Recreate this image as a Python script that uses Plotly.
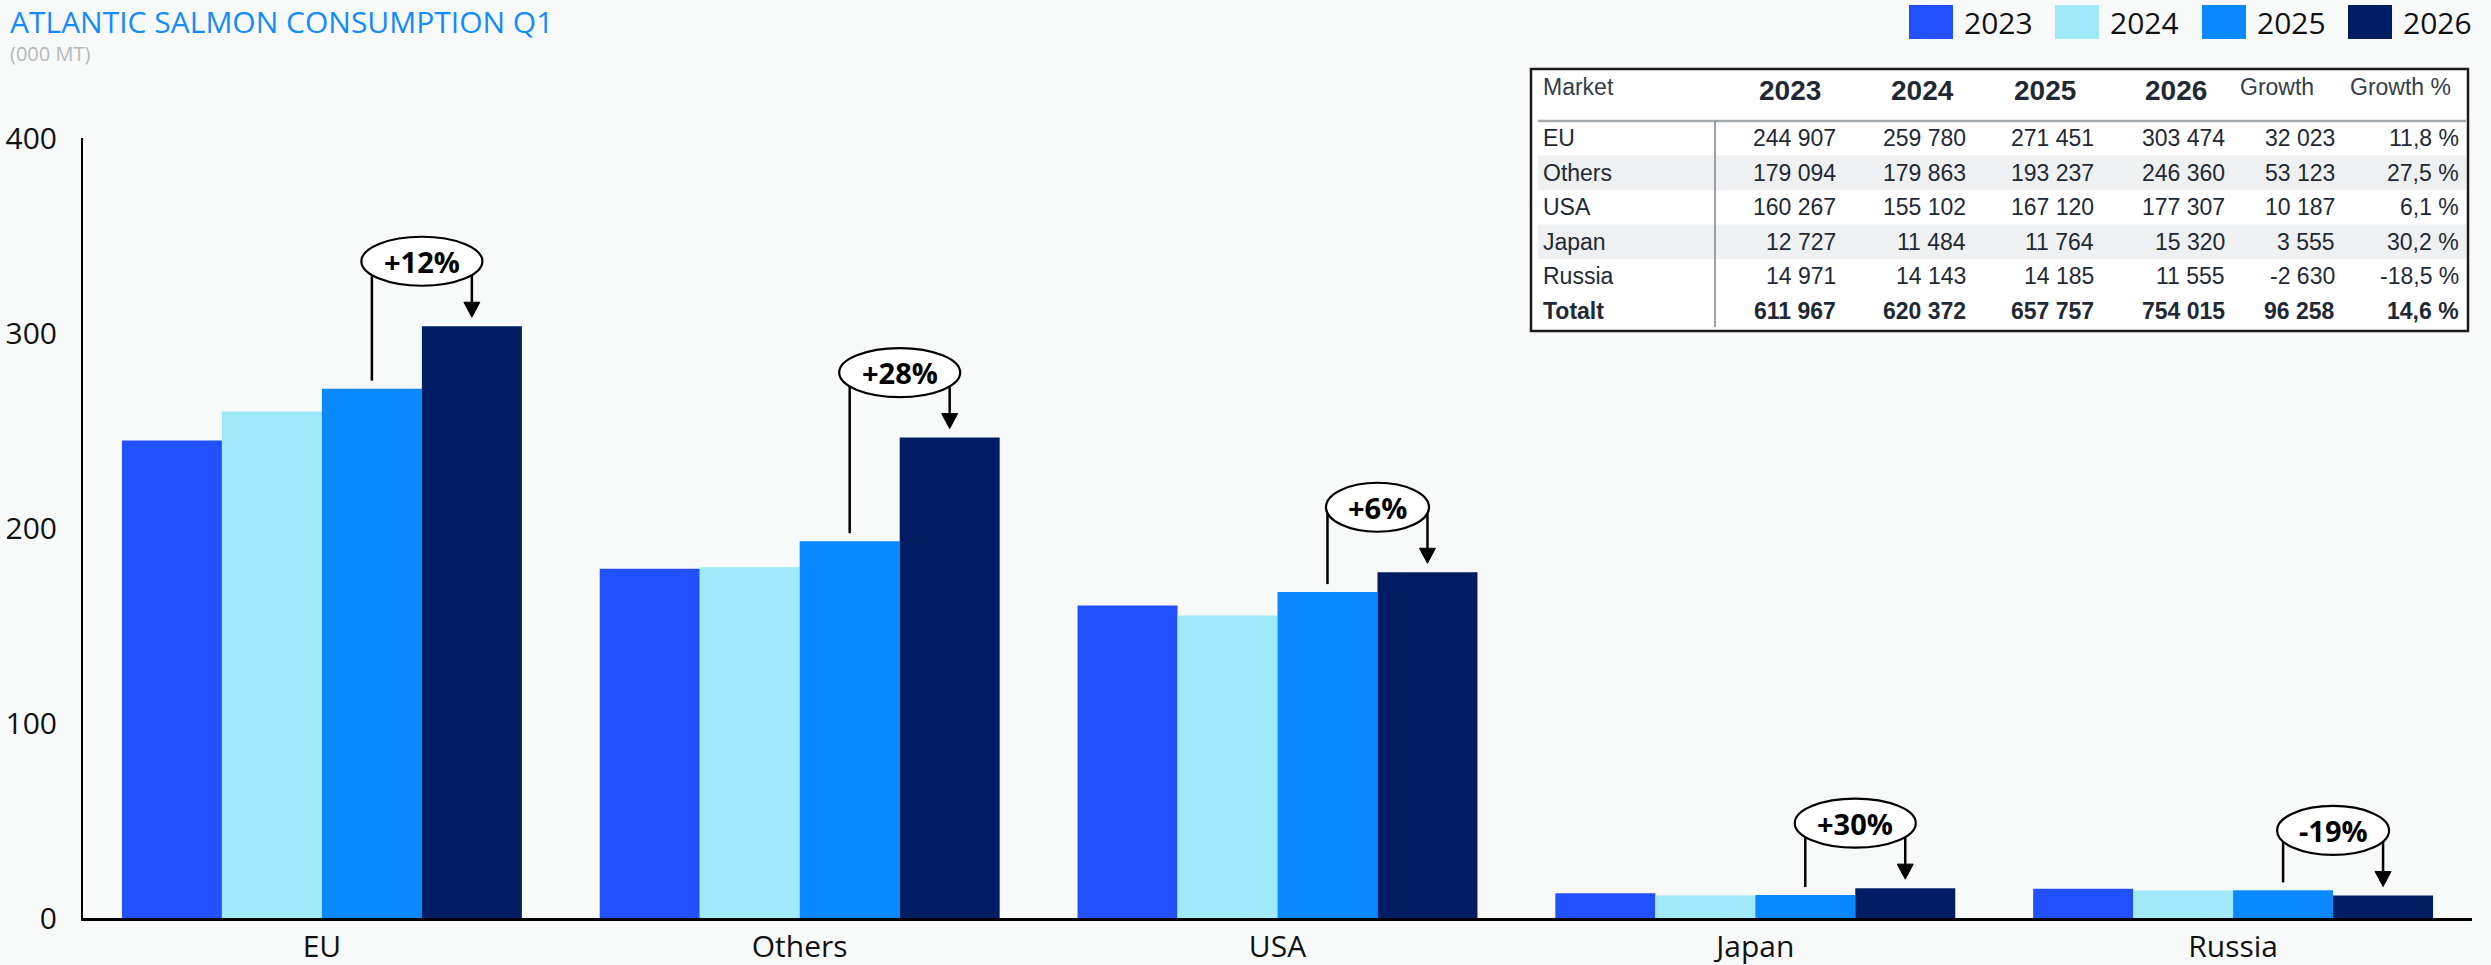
import plotly.graph_objects as go

# ---------------- data ----------------
markets = ["EU", "Others", "USA", "Japan", "Russia"]
years = ["2023", "2024", "2025", "2026"]
v2023 = [244907, 179094, 160267, 12727, 14971]
v2024 = [259780, 179863, 155102, 11484, 14143]
v2025 = [271451, 193237, 167120, 11764, 14185]
v2026 = [303474, 246360, 177307, 15320, 11555]
growth = [32023, 53123, 10187, 3555, -2630]
growth_pct = ["11,8 %", "27,5 %", "6,1 %", "30,2 %", "-18,5 %"]
totals = [611967, 620372, 657757, 754015]
total_growth = 96258
total_growth_pct = "14,6 %"
total_label = "Totalt"
change_labels = ["+12%", "+28%", "+6%", "+30%", "-19%"]
y_ticks = [0, 100, 200, 300, 400]
table_headers = ["Market", "2023", "2024", "2025", "2026", "Growth", "Growth %"]

colors = ["#2350FE", "#9FE9F8", "#0A89FE", "#001C62"]

# ---------------- layout constants ----------------
W, H = 2491, 965
L, R, T, B = 83, 19, 138, 47
PW, PH = W - L - R, H - T - B
YMAX = 400
PPU = PH / YMAX
BARGAP = 0.163
BW = (1 - BARGAP) / 4
BG = "#F8FAFA"
FONT = "Open Sans"
TFONT = "Liberation Sans"


def px(x):
    return (x - L) / PW


def py(y):
    return (H - B - y) / PH


def fmt(v):
    return f"{v:,}".replace(",", " ")


fig = go.Figure()
series = [v2023, v2024, v2025, v2026]
for yr, vals, col in zip(years, series, colors):
    fig.add_trace(go.Bar(
        x=markets, y=[v / 1000 for v in vals], name=yr,
        marker=dict(color=col, line=dict(width=0)),
        showlegend=False, hoverinfo="x+y+name",
    ))

shapes = []
annotations = []

# ---------------- title ----------------
annotations.append(dict(
    x=px(8), y=py(21), xref="paper", yref="paper", xanchor="left", yanchor="middle",
    text="ATLANTIC SALMON CONSUMPTION Q1", showarrow=False,
    font=dict(family=FONT, size=30, color="#148BFC")))
annotations.append(dict(
    x=px(8), y=py(54), xref="paper", yref="paper", xanchor="left", yanchor="middle",
    text="(000 MT)", showarrow=False,
    font=dict(family=FONT, size=20, color="#B5B8B8")))

# ---------------- legend ----------------
leg_x = [1909, 2055, 2202, 2348]
for lx, yr, col in zip(leg_x, years, colors):
    shapes.append(dict(type="rect", xref="paper", yref="paper",
                       x0=px(lx), x1=px(lx + 44), y0=py(5), y1=py(39),
                       fillcolor=col, line=dict(width=0), layer="above"))
    annotations.append(dict(
        x=px(lx + 53), y=py(22), xref="paper", yref="paper",
        xanchor="left", yanchor="middle", text=yr, showarrow=False,
        font=dict(family=FONT, size=30, color="#111111")))

# ---------------- table ----------------
TL, TR, TT, TB = 1531, 2468, 69, 331
ROW0, RH = 121, 34.5
col_right = [1838, 1968, 2096, 2227, 2337, 2461]
head_center = [1790, 1922, 2045, 2176, 2277, 2400]
tcolor = "#1F2935"

shapes.append(dict(type="rect", xref="paper", yref="paper",
                   x0=px(TL), x1=px(TR), y0=py(TT), y1=py(TB),
                   fillcolor="#FFFFFF", line=dict(width=0), layer="above"))
rows = []
for i, m in enumerate(markets):
    rows.append((m, [fmt(v2023[i]), fmt(v2024[i]), fmt(v2025[i]), fmt(v2026[i]),
                     fmt(growth[i]), growth_pct[i]], False))
rows.append((total_label, [fmt(t) for t in totals] + [fmt(total_growth), total_growth_pct], True))

for i, (name, cells, bold) in enumerate(rows):
    top = ROW0 + RH * i
    if i % 2 == 1 and not bold:
        shapes.append(dict(type="rect", xref="paper", yref="paper",
                           x0=px(TL + 7), x1=px(TR - 2), y0=py(top), y1=py(top + RH),
                           fillcolor="#EEF0F1", line=dict(width=0), layer="above"))
    cy = top + RH / 2
    txt = (lambda s: f"<b>{s}</b>") if bold else (lambda s: s)
    annotations.append(dict(
        x=px(1541), y=py(cy), xref="paper", yref="paper", xanchor="left", yanchor="middle",
        text=txt(name), showarrow=False, font=dict(family=TFONT, size=23, color=tcolor)))
    for c, xr in zip(cells, col_right):
        annotations.append(dict(
            x=px(xr), y=py(cy), xref="paper", yref="paper", xanchor="right", yanchor="middle",
            text=txt(c), showarrow=False, font=dict(family=TFONT, size=23, color=tcolor)))

# header
annotations.append(dict(
    x=px(1541), y=py(87), xref="paper", yref="paper", xanchor="left", yanchor="middle",
    text=table_headers[0], showarrow=False, font=dict(family=TFONT, size=23, color="#333D47")))
for j, (hname, hc) in enumerate(zip(table_headers[1:], head_center)):
    if j < 4:
        f = dict(family=TFONT, size=28, color=tcolor)
        t = f"<b>{hname}</b>"
        yc = 90
    else:
        f = dict(family=TFONT, size=23, color="#333D47")
        t = hname
        yc = 87
    annotations.append(dict(
        x=px(hc), y=py(yc), xref="paper", yref="paper", xanchor="center", yanchor="middle",
        text=t, showarrow=False, font=f))

# table lines
shapes.append(dict(type="line", xref="paper", yref="paper",
                   x0=px(TL + 7), x1=px(TR - 2), y0=py(ROW0), y1=py(ROW0),
                   line=dict(color="#A3A8AC", width=2.5), layer="above"))
shapes.append(dict(type="line", xref="paper", yref="paper",
                   x0=px(1715), x1=px(1715), y0=py(ROW0), y1=py(TB - 4),
                   line=dict(color="#7F858A", width=1.5), layer="above"))
shapes.append(dict(type="rect", xref="paper", yref="paper",
                   x0=px(TL), x1=px(TR), y0=py(TT), y1=py(TB),
                   line=dict(color="#1A1A1A", width=2.5), layer="above"))

# ---------------- growth callouts ----------------
ELL_UP = 65      # ellipse centre above 2026 bar top (px)
ELL_H = 49
char_w = {"+": 20, "-": 11, "%": 27}
for i, lab in enumerate(change_labels):
    a25 = v2025[i] / 1000
    a26 = v2026[i] / 1000
    x25 = i + 0.5 * BW
    x26 = i + 1.5 * BW
    xm = i + BW
    tw = sum(char_w.get(ch, 18) for ch in lab)
    ew = tw + 38
    # left connector from 2025 bar
    shapes.append(dict(type="line", xref="x", yref="y",
                       xsizemode="pixel", xanchor=x25, x0=0, x1=0,
                       ysizemode="pixel", yanchor=a25, y0=8,
                       y1=(a26 - a25) * PPU + ELL_UP,
                       line=dict(color="#000000", width=2.5), layer="above"))
    # arrow shaft to 2026 bar
    shapes.append(dict(type="line", xref="x", yref="y",
                       xsizemode="pixel", xanchor=x26, x0=0, x1=0,
                       ysizemode="pixel", yanchor=a26, y0=23, y1=ELL_UP,
                       line=dict(color="#000000", width=2.5), layer="above"))
    # arrow head
    shapes.append(dict(type="path", xref="x", yref="y",
                       xsizemode="pixel", xanchor=x26,
                       ysizemode="pixel", yanchor=a26,
                       path="M -8,24 L 8,24 L 0,9 Z",
                       fillcolor="#000000", line=dict(color="#000000", width=1), layer="above"))
    # ellipse
    shapes.append(dict(type="circle", xref="x", yref="y",
                       xsizemode="pixel", xanchor=xm, x0=-ew / 2, x1=ew / 2,
                       ysizemode="pixel", yanchor=a26,
                       y0=ELL_UP - ELL_H / 2, y1=ELL_UP + ELL_H / 2,
                       fillcolor="#FFFFFF", line=dict(color="#000000", width=2.2), layer="above"))
    annotations.append(dict(
        x=xm, y=a26, xref="x", yref="y", yshift=ELL_UP, xanchor="center", yanchor="middle",
        text=f"<b>{lab}</b>", showarrow=False,
        font=dict(family=FONT, size=29, color="#000000")))

fig.update_layout(
    template="none",
    width=W, height=H, autosize=False,
    margin=dict(l=L, r=R, t=T, b=B, pad=0),
    paper_bgcolor=BG, plot_bgcolor=BG,
    barmode="group", bargap=BARGAP, bargroupgap=0,
    showlegend=False,
    shapes=shapes, annotations=annotations,
    xaxis=dict(showline=True, linecolor="#000000", linewidth=3, showgrid=False,
               zeroline=False, ticks="", automargin=False,
               tickfont=dict(family=FONT, size=30, color="#111111")),
    yaxis=dict(range=[0, YMAX], tickvals=y_ticks, showline=True, linecolor="#000000",
               linewidth=2, showgrid=False, zeroline=False, ticks="", automargin=False,
               ticklabelstandoff=18,
               tickfont=dict(family=FONT, size=30, color="#111111")),
)

fig.write_html(
    "out.html",
    config={"displayModeBar": False},
    post_script="document.body.style.margin='0';document.body.style.overflow='hidden';",
)
